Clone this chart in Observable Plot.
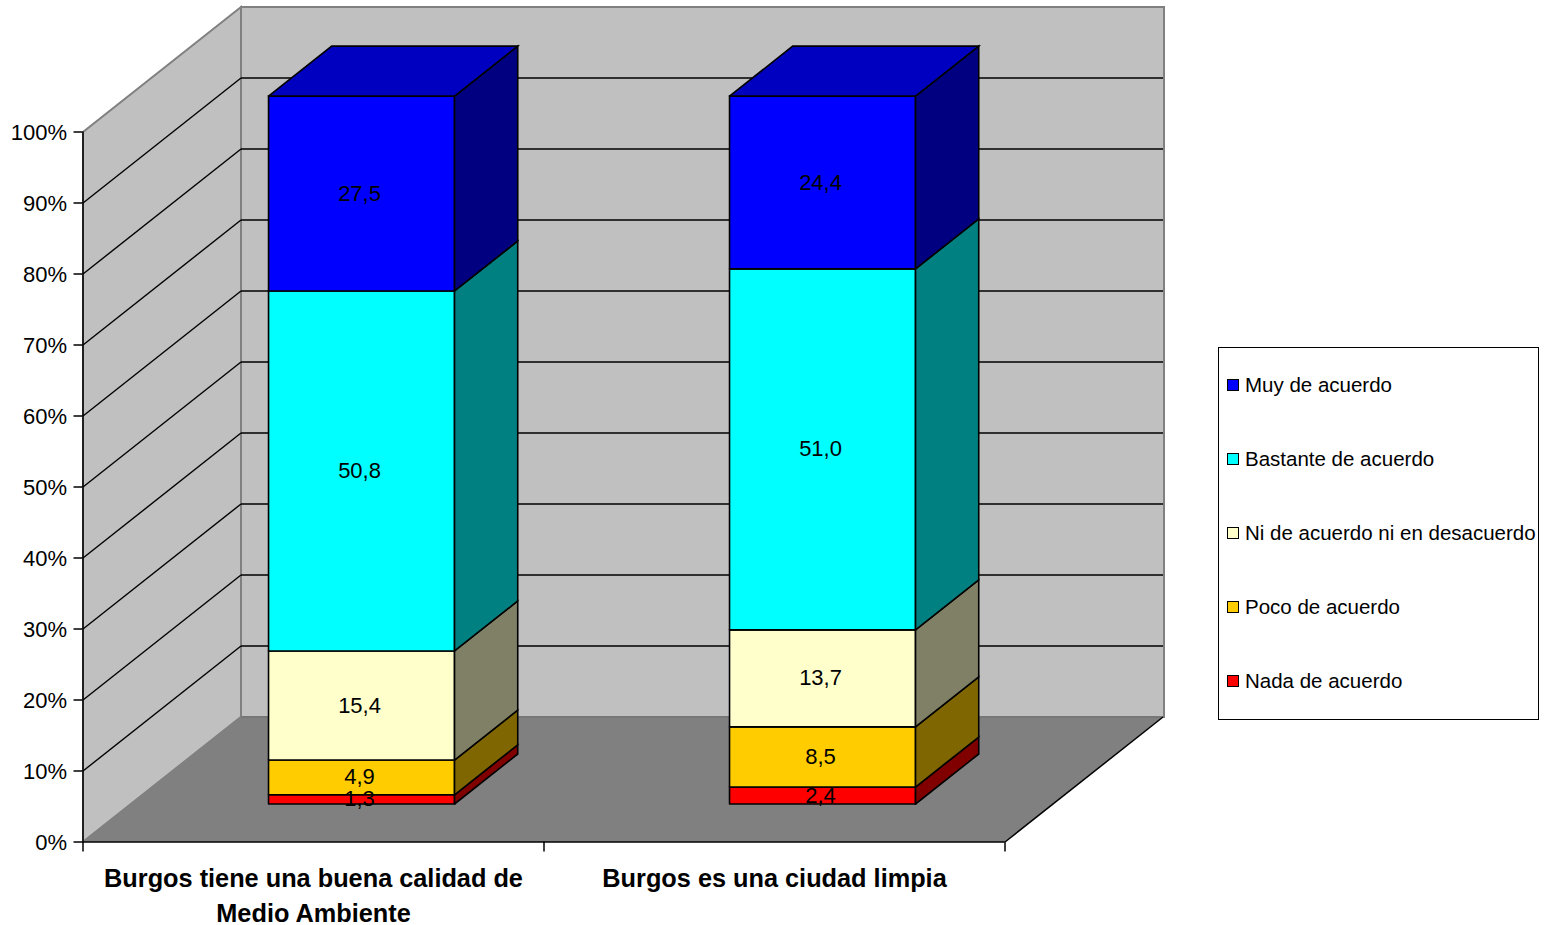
<!DOCTYPE html>
<html><head><meta charset="utf-8">
<script src="https://cdn.jsdelivr.net/npm/d3@7"></script>
<script src="https://cdn.jsdelivr.net/npm/@observablehq/plot@0.6"></script>
<style>
html,body{margin:0;padding:0;background:#fff;width:1550px;height:925px;overflow:hidden;font-family:"Liberation Sans",Arial,sans-serif}
#chart{position:absolute;left:0;top:0}
#legend{position:absolute;left:1218px;top:347px;width:319px;height:371px;border:1.5px solid #000;background:#fff;color:#000;font-size:20.5px}
#legend .row{position:absolute;left:8px;display:flex;align-items:center;height:24px;white-space:nowrap}
#legend .sw{width:10px;height:10px;border:1.5px solid #000;margin-right:6px;flex:none}
</style></head><body>
<div id="chart"></div><div id="legend"></div>
<script>
// Data (bottom of the stack first)
const categories = ["Burgos tiene una buena calidad de\nMedio Ambiente", "Burgos es una ciudad limpia"];
const seriesNames = ["Nada de acuerdo", "Poco de acuerdo", "Ni de acuerdo ni en desacuerdo", "Bastante de acuerdo", "Muy de acuerdo"];
const nada = [1.3, 2.4];
const poco = [4.9, 8.5];
const ni = [15.4, 13.7];
const bastante = [50.8, 51.0];
const muy = [27.5, 24.4];
const seriesValues = [nada, poco, ni, bastante, muy];
const frontColors = ["#ff0000", "#ffcc00", "#ffffcc", "#00ffff", "#0000ff"];
const sideColors = ["#800000", "#806600", "#808066", "#008080", "#000080"];
const topColor = "#0000c0";
const yTicks = [0,10,20,30,40,50,60,70,80,90,100];

// Oblique projection of the 3D box, in scale units
const depthX = 158/461, depthY = 125/7.1;
const project = (x, y, d) => ({x: x + d*depthX, y: y + d*depthY});
const barWidth = 186/461, barD0 = 0.304, barD1 = 0.704, barScale = 0.997;
const xMax = (1164-83)/461, yMax = 835/7.1;

const poly = (pts, fill, stroke, strokeWidth) =>
  Plot.line([...pts, pts[0]], {x:"x", y:"y", fill, stroke, strokeWidth, strokeLinejoin:"miter", strokeMiterlimit:4});

const marks = [];
// walls and floor
marks.push(poly([project(0,0,1),project(xMax-depthX,0,1),project(xMax-depthX,100,1),project(0,100,1)],"#c0c0c0","#808080",2));
marks.push(poly([project(0,0,0),project(0,0,1),project(0,100,1),project(0,100,0)],"#c0c0c0","#808080",2));
marks.push(poly([project(0,0,0),project(2,0,0),project(2,0,1),project(0,0,1)],"#808080","none",0));
// gridlines
const grid = yTicks.filter(t => t > 0 && t < 100);
marks.push(Plot.link(grid,{x1:()=>project(0,0,0).x,x2:()=>project(0,0,1).x,y1:t=>t,y2:t=>project(0,t,1).y,stroke:"#000",strokeWidth:1.4}));
marks.push(Plot.link(grid,{x1:()=>project(0,0,1).x,x2:()=>project(2,0,1).x,y1:t=>project(0,t,1).y,y2:t=>project(0,t,1).y,stroke:"#000",strokeWidth:1.4}));
marks.push(Plot.link([0],{x1:()=>project(0,0,0).x,x2:()=>project(0,0,1).x,y1:()=>0,y2:()=>project(0,0,1).y,stroke:"#808080",strokeWidth:2}));
marks.push(Plot.link([0],{x1:()=>project(0,0,1).x,x2:()=>project(2,0,1).x,y1:()=>project(0,0,1).y,y2:()=>project(0,0,1).y,stroke:"#6e6e6e",strokeWidth:1}));
// right floor edge
marks.push(Plot.link([0],{x1:()=>2,x2:()=>project(2,0,1).x,y1:()=>0,y2:()=>project(0,0,1).y,stroke:"#000",strokeWidth:1.5}));

// bars
const labels = [];
categories.forEach((c, i) => {
  const total = d3.sum(seriesValues, s => s[i]);
  const cx = i + 0.5 + barD0*depthX;
  const x0 = i + 0.5 - barWidth/2, x1 = i + 0.5 + barWidth/2;
  let cum = 0;
  seriesValues.forEach((s, k) => {
    const a = cum/total*100*barScale; cum += s[i];
    const b = cum/total*100*barScale;
    const P = (x,y,d) => project(x,y,d);
    marks.push(poly([P(x0,a,barD0),P(x1,a,barD0),P(x1,b,barD0),P(x0,b,barD0)],frontColors[k],"#000",1.6));
    marks.push(poly([P(x1,a,barD0),P(x1,a,barD1),P(x1,b,barD1),P(x1,b,barD0)],sideColors[k],"#000",1.6));
    if (k === seriesValues.length-1)
      marks.push(poly([P(x0,b,barD0),P(x1,b,barD0),P(x1,b,barD1),P(x0,b,barD1)],topColor,"#000",1.6));
    labels.push({x:cx, y:project(0,(a+b)/2,barD0).y, t:s[i].toFixed(1).replace(".",",")});
  });
});
marks.push(Plot.text(labels,{x:"x",y:"y",text:"t",fill:"#000",fontSize:22,dx:-2,dy:0}));

// axes
marks.push(Plot.ruleX([0],{y1:0,y2:100,stroke:"#000",strokeWidth:1.5}));
marks.push(Plot.ruleY([0],{x1:0,x2:2,stroke:"#000",strokeWidth:1.5}));
marks.push(Plot.axisY({ticks:yTicks,tickFormat:()=>"",tickSize:9,label:null,stroke:"#000",strokeWidth:1.5}));
marks.push(Plot.axisY({ticks:yTicks,tickFormat:d=>d+"%",tickSize:0,tickPadding:16,dy:1,fontSize:22,label:null,fill:"#000"}));
marks.push(Plot.axisX({ticks:[0,1,2],tickFormat:()=>"",tickSize:10,label:null,stroke:"#000",strokeWidth:1.5}));
marks.push(Plot.text(categories,{x:(d,i)=>i+0.5,y:()=>0,text:d=>d,lineAnchor:"top",dy:20,lineHeight:1.39,fontSize:25.3,fontWeight:"bold",fill:"#000"}));

const plot = Plot.plot({
  width:1550,height:925,
  marginLeft:82.5,marginRight:386.5,marginTop:6.5,marginBottom:83.5,
  x:{domain:[0,xMax],axis:null},
  y:{domain:[0,yMax],axis:null},
  style:{fontFamily:'"Liberation Sans",Arial,sans-serif',background:"#fff",overflow:"visible"},
  marks
});
document.getElementById("chart").append(plot);

// legend
const legend = document.getElementById("legend");
const legendOrder = d3.range(seriesNames.length).reverse();
legendOrder.forEach((k, j) => {
  const r = document.createElement("div"); r.className="row"; r.style.top=(25+j*74)+"px";
  const s = document.createElement("span"); s.className="sw"; s.style.background=frontColors[k];
  const t = document.createElement("span"); t.textContent=seriesNames[k];
  r.append(s,t); legend.append(r);
});
</script></body></html>
